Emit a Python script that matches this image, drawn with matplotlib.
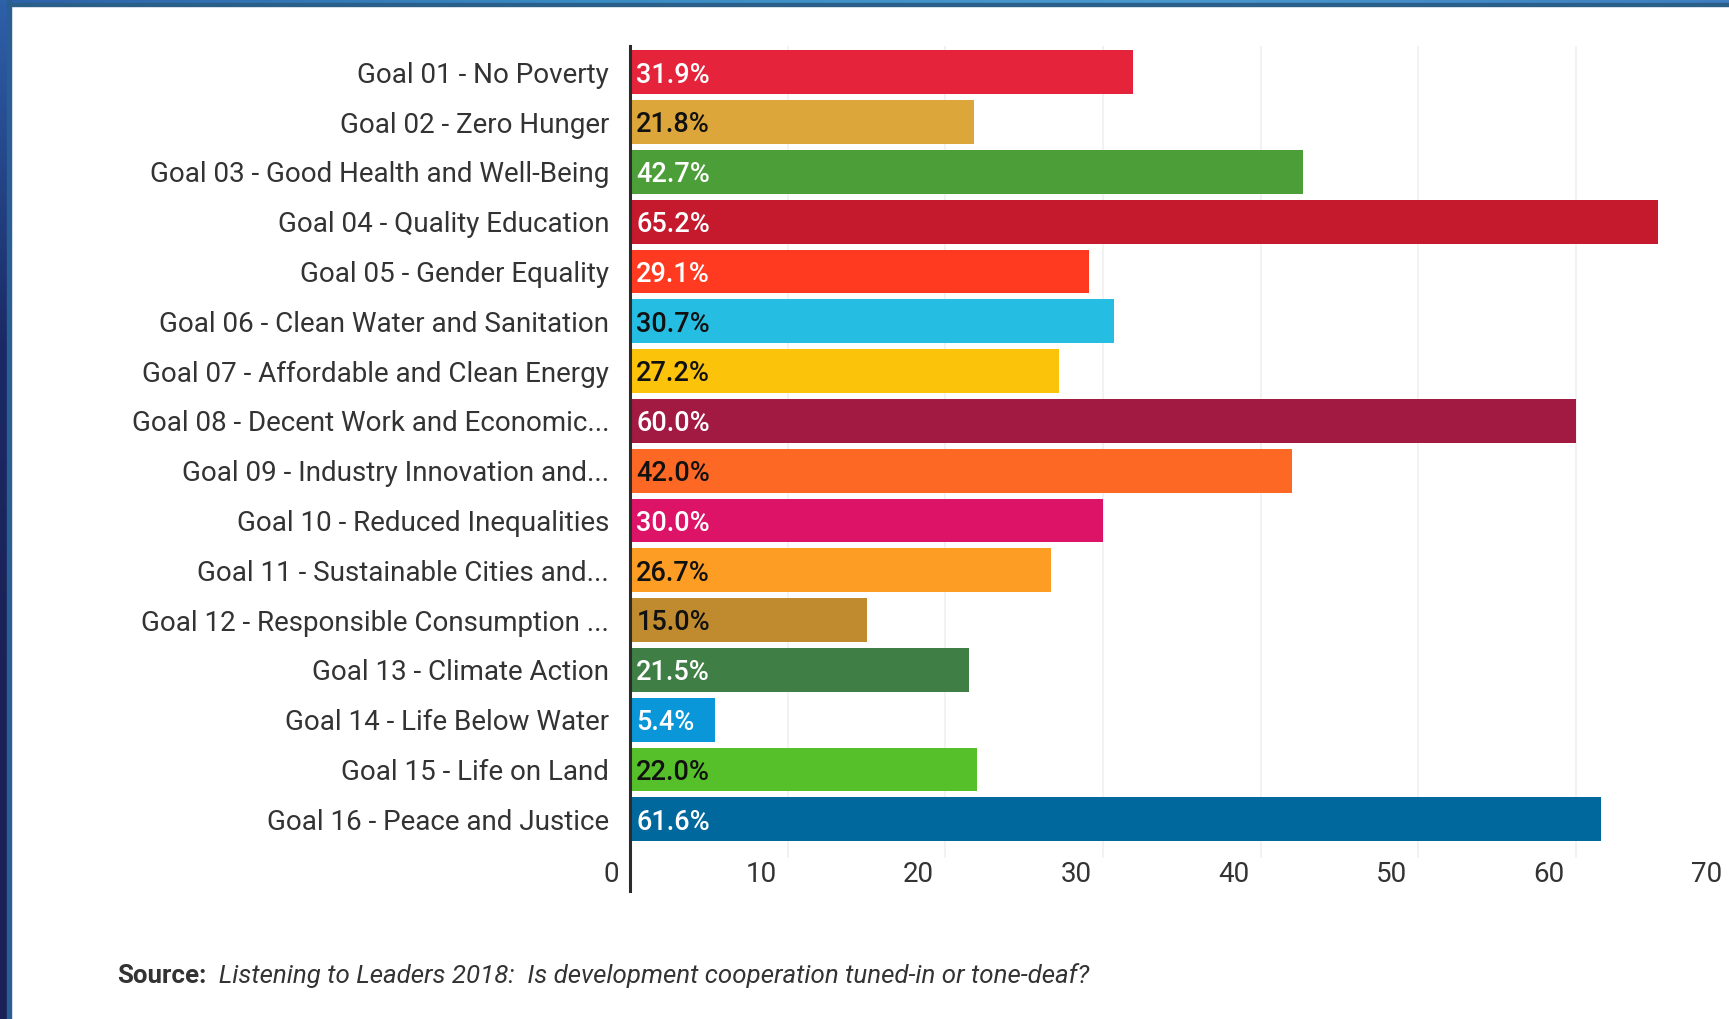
import matplotlib
matplotlib.use("Agg")
import matplotlib.pyplot as plt
import numpy as np
from matplotlib.colors import LinearSegmentedColormap

goals = ['Goal 01 - No Poverty', 'Goal 02 - Zero Hunger',
         'Goal 03 - Good Health and Well-Being', 'Goal 04 - Quality Education',
         'Goal 05 - Gender Equality', 'Goal 06 - Clean Water and Sanitation',
         'Goal 07 - Affordable and Clean Energy', 'Goal 08 - Decent Work and Economic...',
         'Goal 09 - Industry Innovation and...', 'Goal 10 - Reduced Inequalities',
         'Goal 11 - Sustainable Cities and...', 'Goal 12 - Responsible Consumption ...',
         'Goal 13 - Climate Action', 'Goal 14 - Life Below Water',
         'Goal 15 - Life on Land', 'Goal 16 - Peace and Justice']
shares = [31.9, 21.8, 42.7, 65.2, 29.1, 30.7, 27.2, 60.0,
          42.0, 30.0, 26.7, 15.0, 21.5, 5.4, 22.0, 61.6]
sdg_colors = ['#E5243B', '#DDA63A', '#4C9F38', '#C5192D', '#FF3A21', '#26BDE2',
              '#FCC30B', '#A21942', '#FD6925', '#DD1367', '#FD9D24', '#BF8B2E',
              '#3F7E44', '#0A97D9', '#56C02B', '#00689D']
# dark text on the light bars, white on the rest
dark_label = [False, True, False, False, False, True, True, False,
              True, False, True, True, False, False, True, False]
xticks = [0, 10, 20, 30, 40, 50, 60, 70]

font = 'Roboto'
label_gray = '#333333'

fig = plt.figure(figsize=(17.29, 10.19), dpi=100)
fig.patch.set_facecolor('white')

ax = fig.add_axes([0.3644, 0.1256, 1 - 0.3644, 0.8293])
y = np.arange(len(goals))
ax.barh(y, shares, height=0.88, color=sdg_colors, zorder=2)
ax.set_xlim(0, 69.7)
ax.set_ylim(16.44, -0.53)

for v in xticks[1:]:
    ax.plot([v, v], [-0.53, 15.75], color='#f0f0f0', lw=1.2, zorder=1)

for i, v in enumerate(shares):
    ax.annotate(f'{v:.1f}%', xy=(0, i), xytext=(4.5, -2), textcoords='offset points',
                ha='left', va='center', fontsize=19.5, fontfamily=font,
                fontweight='medium', color='#111111' if dark_label[i] else 'white',
                zorder=3)

for v in xticks:
    ax.annotate(str(v), xy=(v, 16.09), xytext=(-8, -1), textcoords='offset points',
                ha='right', va='center', fontsize=20, fontfamily=font,
                color=label_gray, annotation_clip=False)

ax.set_yticks(y)
ax.set_yticklabels(goals, fontsize=20, fontfamily=font, color=label_gray)
ax.tick_params(axis='y', length=0, pad=15)
ax.set_xticks([])
for side in ['top', 'right', 'bottom']:
    ax.spines[side].set_visible(False)
ax.spines['left'].set_color('#2b2b2b')
ax.spines['left'].set_linewidth(2.2)

src = fig.text(117 / 1729, 1 - 976 / 1019, 'Source:', fontsize=18.6, fontfamily=font,
               fontweight='bold', color=label_gray, va='center')
fig.canvas.draw()
ax.annotate('  Listening to Leaders 2018:  Is development cooperation tuned-in or tone-deaf?',
            xy=(1, 0.5), xycoords=src, va='center', ha='left',
            fontsize=18.6, fontfamily=font, fontstyle='italic', color=label_gray,
            annotation_clip=False)

# slide frame: gradient strip on the left and along the top
left_cmap = LinearSegmentedColormap.from_list('lf', ['#2e60aa', '#1b2a66', '#1a2255', '#1a2255'])
bx = fig.add_axes([0, 0, 7 / 1729, 1])
bx.imshow(np.linspace(0, 1, 256).reshape(-1, 1), aspect='auto', cmap=left_cmap)
bx.axis('off')
fig.add_artist(plt.Rectangle((7 / 1729, 0), 4 / 1729, 1, transform=fig.transFigure,
                             color='#2a5f95', zorder=5))
top_cmap = LinearSegmentedColormap.from_list('tp', ['#2e62a8', '#3a8cc4', '#4a9ad0', '#3f7fc0'])
tx = fig.add_axes([0, 1 - 3 / 1019, 1, 3 / 1019])
tx.imshow(np.linspace(0, 1, 256).reshape(1, -1), aspect='auto', cmap=top_cmap)
tx.axis('off')
fig.add_artist(plt.Rectangle((7 / 1729, 1 - 6 / 1019), 1, 3 / 1019, transform=fig.transFigure,
                             color='#2a5f8a', zorder=5))

fig.savefig('out.png', dpi=100)
